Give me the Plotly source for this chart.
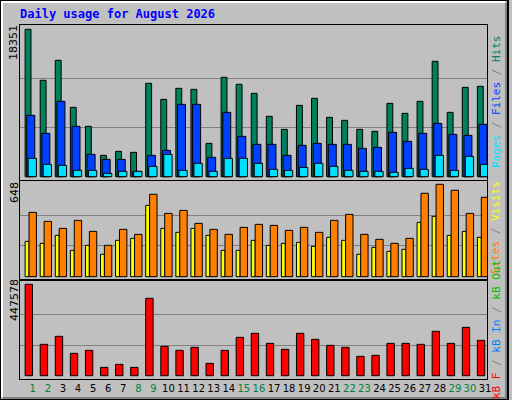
import plotly.graph_objects as go

days = list(range(1, 32))
hits = [18351,12000,14490,8636,6269,2657,3155,3031,11625,9632,11002,10878,4152,12372,11501,10380,7515,5896,8885,9757,7390,7017,5896,5647,9134,7889,9383,14365,8013,11127,11252]
files = [7640,5398,9383,6269,2782,2159,2159,664,2657,3280,9010,9010,2408,8013,5024,4027,4027,2657,3903,4152,4027,4027,3529,3654,5522,4401,5398,6643,5273,5148,6519]
pages = [2284,1536,1412,789,789,415,664,664,1287,2782,789,1661,664,2284,2284,1661,913,789,1163,1661,1287,789,664,664,540,1038,913,2657,789,2533,1536]
sites = [451,388,339,395,318,220,332,297,578,444,465,374,332,297,346,367,360,325,346,311,395,437,297,262,234,269,585,648,606,444,557]
visits = [248,234,290,185,220,157,255,269,500,339,311,339,290,185,185,255,220,234,241,213,276,255,157,206,178,192,381,423,290,318,276]
kbytes = [447578,153549,192753,109445,124146,40838,55539,40838,378972,143748,124146,138848,60440,124146,187853,207455,158450,129047,207455,178052,148649,138848,94743,99644,158450,158450,153549,217256,158450,236858,173151]
weekend = [1,2,8,9,15,16,22,23,29,30]
title = "Daily usage for August 2026"

W, H = 512, 400
def dom(top, bot):
    return [1 - bot / H, 1 - top / H]

fig = go.Figure()
line = dict(color="black", width=1)
def bar(y, color, off, wid, ax):
    fig.add_trace(go.Bar(x=days, y=y, offset=off, width=wid, marker=dict(color=color, line=line),
                         xaxis="x" + ax, yaxis="y" + ax, hoverinfo="skip"))

bar(hits, "#00805C", -0.15, 0.39, "")
bar(files, "#0040FF", -0.04, 0.53, "")
bar(pages, "#00E0FF", 0.05, 0.55, "")
bar(visits, "#FFFF00", -0.15, 0.26, "2")
bar(sites, "#FF8000", 0.11, 0.49, "2")
bar(kbytes, "#FF0000", -0.15, 0.49, "3")

xd = [20 / W, 491 / W]
common_x = dict(range=[0.5, 31.5], domain=xd, showgrid=False, zeroline=False,
                showline=True, mirror=True, linecolor="black", linewidth=1)
ticktext = [("<span style='color:#008040'>%d</span>" % d) if d in weekend else str(d) for d in days]
fig.update_layout(
    xaxis=dict(common_x, anchor="y", showticklabels=False, ticks=""),
    xaxis2=dict(common_x, anchor="y2", showticklabels=False, ticks=""),
    xaxis3=dict(common_x, anchor="y3", ticks="", tickvals=[d + 0.36 for d in days], ticktext=ticktext,
                tickangle=0, ticklabelstandoff=0,
                tickfont=dict(family="DejaVu Sans", size=10, color="black")),
)

def yax(mx, top, bot, base_px, max_px, anchor):
    per = mx / (base_px - max_px)
    return dict(domain=dom(top, bot), anchor=anchor,
                range=[-(bot - base_px) * per, mx + (max_px - top) * per],
                tickvals=[mx / 3, 2 * mx / 3], showticklabels=False, ticks="",
                showgrid=True, gridcolor="#808080", gridwidth=1, zeroline=False,
                showline=True, mirror=True, linecolor="black", linewidth=1)

fig.update_layout(
    yaxis=yax(max(hits), 25, 180, 176.7, 29.3, "x"),
    yaxis2=yax(max(sites), 181, 279, 276.7, 184.3, "x2"),
    yaxis3=yax(max(kbytes), 281, 379, 375.7, 284.3, "x3"),
)

ann = []
def txt(x, y, t, angle=0, size=11, family="DejaVu Sans", xa="center", ya="middle", color="black"):
    ann.append(dict(x=x / W, y=1 - y / H, xref="paper", yref="paper", text=t, showarrow=False,
                    textangle=angle, font=dict(family=family, size=size, color=color),
                    xanchor=xa, yanchor=ya))

txt(18, 14, "<b>" + title + "</b>", size=12, family="DejaVu Sans Mono", xa="left", color="#0000FF")
txt(14, 42, str(max(hits)), angle=-90, size=11)
txt(14, 192, str(max(sites)), angle=-90, size=11)
txt(14, 300, str(max(kbytes)), angle=-90, size=11)
mono = "DejaVu Sans Mono"
txt(500, 102, "<span style='color:#00E0FF'>Pages</span> / <span style='color:#0040FF'>Files</span> / <span style='color:#00805C'>Hits</span>",
    angle=-90, size=11, family=mono, color="#808080")
txt(500, 228, "<span style='color:#FF8000'>Sites</span> / <span style='color:#FFFF00'>Visits</span>",
    angle=-90, size=11, family=mono, color="#808080")
txt(500, 330, "<span style='color:#FF0000'>kB F</span> / <span style='color:#0080FF'>kB In</span> / <span style='color:#00C000'>kB Out</span>",
    angle=-90, size=11, family=mono, color="#808080")

shapes = [
    dict(type="rect", xref="paper", yref="paper", x0=0, y0=0, x1=1, y1=1, line=dict(color="black", width=2)),
    dict(type="path", xref="paper", yref="paper", path="M %f %f L %f %f L %f %f" % (2/W, 3/H, 2/W, 1-2/H, 1-3/W, 1-2/H),
         line=dict(color="white", width=2)),
    dict(type="path", xref="paper", yref="paper", path="M %f %f L %f %f L %f %f" % (3/W, 2/H, 1-2/W, 2/H, 1-2/W, 1-3/H),
         line=dict(color="#808080", width=2)),
]

fig.update_layout(width=W, height=H, margin=dict(l=0, r=0, t=0, b=0), showlegend=False,
                  barmode="overlay", paper_bgcolor="#C0C0C0", plot_bgcolor="#C0C0C0",
                  annotations=ann, shapes=shapes)
fig.write_html("out.html", config={"displayModeBar": False},
               post_script="document.body.style.margin='0';document.body.style.overflow='hidden';")
